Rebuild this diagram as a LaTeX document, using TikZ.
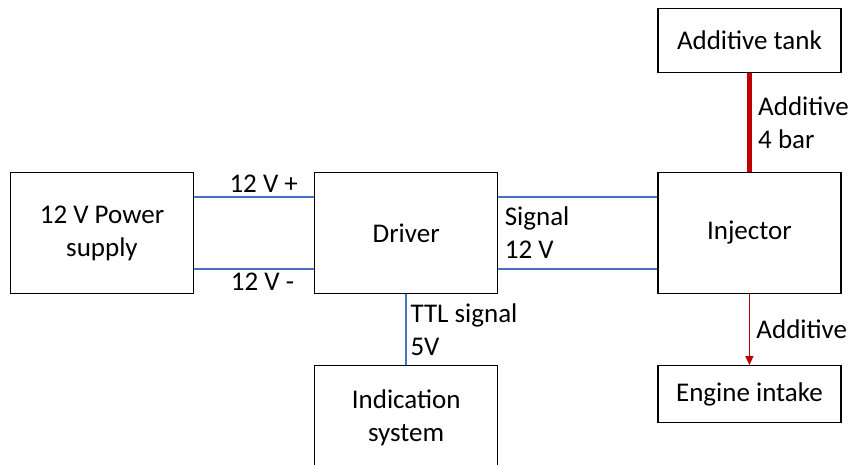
\documentclass[tikz,border=0pt]{standalone}
\usepackage{fontspec}
\setmainfont{Carlito}
\usepackage{xcolor}
\usetikzlibrary{arrows.meta,positioning}

\definecolor{wireblue}{HTML}{4472C4}
\definecolor{fluidred}{HTML}{C00000}

\begin{document}
\begin{tikzpicture}[
    x=1pt, y=-1pt,
    font=\fontsize{27}{33}\selectfont,
    box/.style={rectangle, draw, line width=1.2pt, minimum width=183pt, minimum height=121pt, align=center},
    wire/.style={draw=wireblue, line width=2pt},
    feed/.style={draw=fluidred, line width=5pt},
    flow/.style={draw=fluidred, line width=1.4pt, -{Triangle[length=9pt,width=8pt]}}
]
    \useasboundingbox (0,0) rectangle (853,464);

    \node[box] (supply) at (102,233) {12 V Power\\supply};
    \node[box, right=120pt of supply] (driver) {Driver};
    \node[box, right=159pt of driver] (injector) {Injector};
    \node[box, above=99pt of injector, minimum height=64pt] (tank) {Additive tank};
    \node[box, below=71pt of injector, minimum height=57pt] (intake) {Engine intake};
    \node[box, below=71pt of driver, minimum height=104pt] (indication) {Indication\\system};

    % power wires
    \draw[wire] ([yshift=36pt]supply.east) -- node[above, pos=0.58] (plus) {12 V +} ([yshift=36pt]driver.west);
    \draw[wire] ([yshift=-36pt]supply.east) -- node[below, pos=0.57] (minus) {12 V -} ([yshift=-36pt]driver.west);

    % signal to injector
    \draw[wire] ([yshift=36pt]driver.east) -- ([yshift=36pt]injector.west);
    \draw[wire] ([yshift=-36pt]driver.east) -- ([yshift=-36pt]injector.west);
    \node[right=3pt of driver, align=left] (signal) {Signal\\12 V};

    \draw[wire] (driver) -- node[right, align=left] (ttl) {TTL signal\\5V} (indication);

    % additive path
    \draw[feed] (tank) -- node[right, xshift=3pt, align=left] (pressure) {Additive\\4 bar} (injector);
    \draw[flow] (injector) -- node[right, xshift=3pt] (dose) {Additive} (intake);
\end{tikzpicture}
\end{document}
